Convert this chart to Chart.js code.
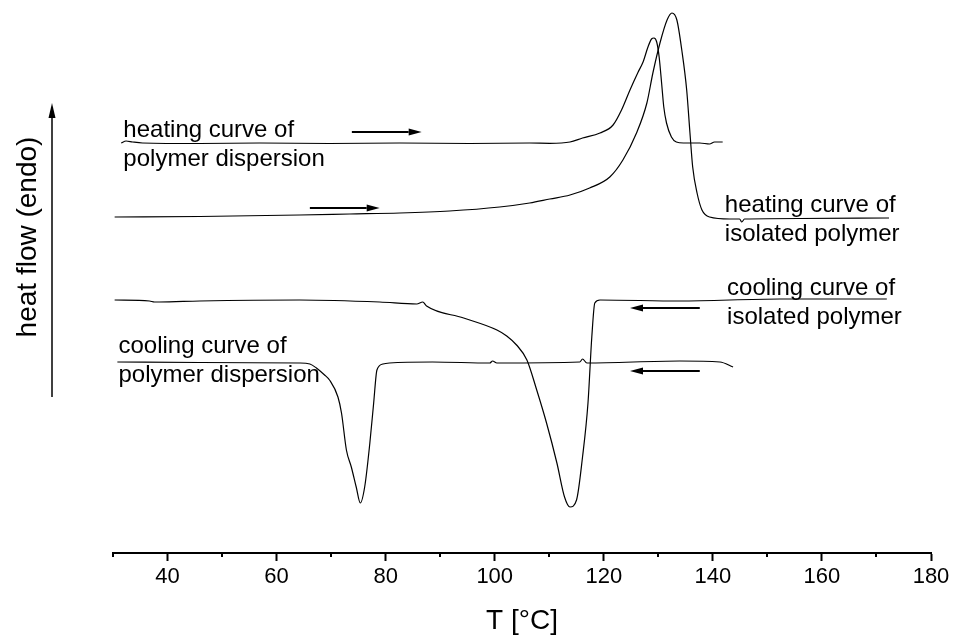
<!DOCTYPE html>
<html>
<head>
<meta charset="utf-8">
<title>DSC heating and cooling curves</title>
<script src="https://cdn.jsdelivr.net/npm/chart.js@4.4.1/dist/chart.umd.min.js"></script>
<style>
  html, body { margin: 0; padding: 0; background: #fff; }
  #wrap { width: 953px; height: 636px; }
</style>
</head>
<body>
<div id="wrap"><canvas id="dsc" width="953" height="636"></canvas></div>
<script>
// Temperature axis
const xMin = 30;
const xMax = 180;
const majorTicks = [40, 60, 80, 100, 120, 140, 160, 180];
const minorTicks = [30, 50, 70, 90, 110, 130, 150, 170];

// heating curve of polymer dispersion
const heatDispT = [31.5, 32.4, 33.6, 35.4, 45.9, 56.9, 69.7, 82.6, 95.4, 106.4, 110.1, 113.8, 116.1, 119.3,
  121.7, 123.25, 124.8, 126.3, 127.2, 128.1, 128.75, 129.2, 129.7, 130.15, 130.6, 131.0, 131.5, 132.4,
  133.3, 134.6, 137.6, 139.4, 140.3, 141.8];
const heatDispV = [41.0, 41.2, 41.1, 41.0, 40.95, 41.0, 40.95, 41.0, 40.95, 41.0, 40.97, 41.1, 41.5, 42.0,
  42.8, 44.3, 46.3, 48.1, 49.1, 50.6, 51.4, 51.5, 51.1, 49.6, 47.0, 44.6, 43.0, 41.6,
  41.1, 41.0, 41.0, 40.9, 41.1, 41.1];

// heating curve of isolated polymer
const heatIsoT = [30.3, 45.9, 64.2, 73.4, 82.6, 91.7, 100.9, 106.4, 110.1, 113.8, 117.4, 121.1, 123.5, 126.0,
  127.9, 129.0, 130.3, 131.6, 132.5, 133.4, 134.3, 135.2, 135.8, 136.3, 137.1, 138.0, 139.4, 143.1,
  144.9, 145.3, 145.8, 156.0, 172.3];
const heatIsoV = [33.6, 33.65, 33.8, 33.9, 34.0, 34.2, 34.6, 35.0, 35.4, 35.8, 36.5, 37.6, 39.3, 42.0,
  45.0, 48.0, 51.0, 53.3, 54.0, 53.3, 50.3, 46.3, 42.0, 38.6, 36.0, 34.3, 33.6, 33.4,
  33.4, 33.1, 33.4, 33.45, 33.5];

// cooling curve of isolated polymer
const coolIsoT = [30.3, 36.7, 37.6, 38.5, 45.9, 64.2, 78.9, 85.7, 86.8, 87.5, 94.3, 100.4, 102.2,
  104.0, 105.9, 107.7, 109.5, 111.4, 112.8, 113.8, 115.0, 116.1, 117.1, 117.8, 118.35, 119.3, 133.9,
  152.3, 171.9];
const coolIsoV = [25.3, 25.2, 25.1, 25.1, 25.2, 25.3, 25.1, 24.9, 25.1, 24.7, 23.5, 22.3, 21.7,
  20.8, 19.3, 16.3, 13.0, 9.0, 5.6, 4.6, 5.3, 9.6, 15.0, 21.6, 25.0, 25.3, 25.2,
  25.4, 25.4];

// cooling curve of polymer dispersion
const coolDispT = [30.8, 45.9, 64.2, 66.1, 67.3, 68.8, 69.7, 71.25, 71.9, 72.8, 73.7, 74.6, 75.35, 76.15,
  77.1, 77.8, 78.4, 79.5, 80.7, 88.6, 99.1, 99.6, 100.4, 115.6, 116.1, 116.9, 133.9, 141.3, 143.7];
const coolDispV = [19.1, 19.05, 19.0, 18.9, 18.5, 17.8, 17.3, 15.6, 14.0, 10.3, 8.6, 6.6, 5.0, 6.6,
  11.0, 15.0, 18.3, 18.9, 19.0, 19.1, 19.0, 19.2, 19.0, 19.1, 19.4, 19.0, 19.2, 19.1, 18.6];

// direction arrows (scan direction)
const arrowFromT = [73.8, 66.1, 137.6, 137.6];
const arrowToT = [86.6, 78.9, 124.8, 124.8];
const arrowV = [42.1, 34.5, 24.5, 18.2];

// curve labels
const labelLines = [
  ["heating curve of", "polymer dispersion"],
  ["heating curve of", "isolated polymer"],
  ["cooling curve of", "isolated polymer"],
  ["cooling curve of", "polymer dispersion"]
];
const labelT = [31.9, 142.2, 142.6, 31.0];
const labelV = [41.6, 34.1, 25.8, 20.0];

const yMin = 0;
const yMax = 55.3;
const yArrowFrom = 15.6;
const yArrowTo = 45.0;

const FONT = '"Liberation Sans", Arial, Helvetica, sans-serif';

const toPoints = (ts, vs) => ts.map((t, i) => ({ x: t, y: vs[i] }));

const curve = (ts, vs) => ({
  data: toPoints(ts, vs),
  showLine: true,
  borderColor: "#000",
  borderWidth: 1.2,
  pointRadius: 0,
  fill: false,
  cubicInterpolationMode: "monotone",
});

const drawArrow = (ctx, x1, y1, x2, y2, headLen, headHalf, lw) => {
  const ang = Math.atan2(y2 - y1, x2 - x1);
  const bx = x2 - headLen * Math.cos(ang);
  const by = y2 - headLen * Math.sin(ang);
  ctx.lineWidth = lw;
  ctx.beginPath();
  ctx.moveTo(x1, y1);
  ctx.lineTo(bx, by);
  ctx.stroke();
  ctx.beginPath();
  ctx.moveTo(x2, y2);
  ctx.lineTo(bx + headHalf * Math.sin(ang), by - headHalf * Math.cos(ang));
  ctx.lineTo(bx - headHalf * Math.sin(ang), by + headHalf * Math.cos(ang));
  ctx.closePath();
  ctx.fill();
};

const annotate = {
  id: "annotate",
  afterDraw(chart) {
    const { ctx, chartArea } = chart;
    const x = chart.scales.x;
    const y = chart.scales.y;
    ctx.save();
    ctx.strokeStyle = "#000";
    ctx.fillStyle = "#000";

    // minor ticks, shorter than the major ones
    ctx.lineWidth = 2;
    minorTicks.forEach((v) => {
      const px = Math.round(x.getPixelForValue(v));
      ctx.beginPath();
      ctx.moveTo(px, chartArea.bottom);
      ctx.lineTo(px, chartArea.bottom + 4);
      ctx.stroke();
    });

    // scan direction arrows
    arrowV.forEach((v, i) => {
      const py = Math.round(y.getPixelForValue(v));
      drawArrow(ctx, x.getPixelForValue(arrowFromT[i]), py, x.getPixelForValue(arrowToT[i]), py, 13, 3.5, 2);
    });

    // curve labels
    ctx.font = "24px " + FONT;
    ctx.textAlign = "left";
    ctx.textBaseline = "alphabetic";
    labelLines.forEach((lines, i) => {
      const px = x.getPixelForValue(labelT[i]);
      const py = y.getPixelForValue(labelV[i]);
      lines.forEach((txt, j) => ctx.fillText(txt, px, py + j * 28.5));
    });

    // y axis: arrow and title
    const ax = chartArea.left - 61;
    drawArrow(ctx, ax, y.getPixelForValue(yArrowFrom), ax, y.getPixelForValue(yArrowTo), 15, 3.5, 1.5);
    ctx.translate(chartArea.left - 85, (y.getPixelForValue(yArrowFrom) + y.getPixelForValue(yArrowTo)) / 2 - 13);
    ctx.rotate(-Math.PI / 2);
    ctx.font = "28px " + FONT;
    ctx.textAlign = "center";
    ctx.textBaseline = "middle";
    ctx.fillText("heat flow (endo)", 0, 0);
    ctx.restore();
  },
};

document.addEventListener("DOMContentLoaded", () => {
  const canvas = document.getElementById("dsc");
  new Chart(canvas, {
    type: "scatter",
    data: {
      datasets: [
        curve(heatDispT, heatDispV),
        curve(heatIsoT, heatIsoV),
        curve(coolIsoT, coolIsoV),
        curve(coolDispT, coolDispV),
      ],
    },
    options: {
      responsive: false,
      animation: false,
      layout: { padding: { left: 113, right: 22, top: 0, bottom: 0 } },
      plugins: { legend: { display: false }, tooltip: { enabled: false } },
      scales: {
        x: {
          type: "linear",
          min: xMin,
          max: xMax,
          afterBuildTicks: (scale) => {
            scale.ticks = [...majorTicks, ...minorTicks].sort((a, b) => a - b).map((v) => ({ value: v }));
          },
          ticks: {
            autoSkip: false,
            maxRotation: 0,
            padding: 3,
            color: "#000",
            font: { size: 22, family: FONT },
            callback: (value) => (majorTicks.includes(value) ? String(value) : ""),
          },
          grid: {
            drawOnChartArea: false,
            drawTicks: true,
            tickLength: 8,
            tickWidth: 2,
            tickColor: (c) => (c.tick && majorTicks.includes(c.tick.value) ? "#000" : "rgba(0,0,0,0)"),
          },
          border: { display: true, color: "#000", width: 2 },
          title: {
            display: true,
            text: "T [°C]",
            color: "#000",
            font: { size: 28, family: FONT, lineHeight: 1.05 },
            padding: { top: 13.2, bottom: 0 },
          },
        },
        y: { display: false, min: yMin, max: yMax },
      },
    },
    plugins: [annotate],
  });
});
</script>
</body>
</html>
